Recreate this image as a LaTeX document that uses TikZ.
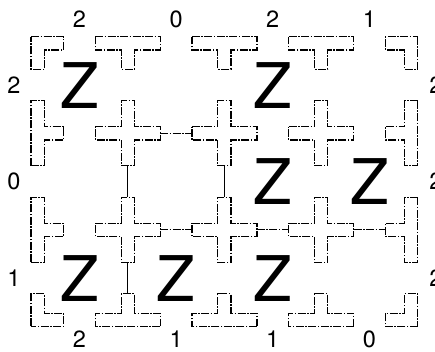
\documentclass[tikz,border=0pt]{standalone}
\usepackage{fontspec}
\setmainfont{TeX Gyre Heros}
\usepackage{tikz}

\begin{document}
\begin{tikzpicture}[x=1pt,y=-1pt,every node/.style={inner sep=0pt},
  piece/.style={line width=1.2pt,dash pattern=on 8pt off 1.5pt on 1.5pt off 1.5pt},
  link/.style={line width=1.2pt,dash pattern=on 8pt off 1.5pt on 1.5pt off 1.5pt},
  rung/.style={line width=0.9pt},
  clue/.style={font=\fontsize{23.5}{23.5}\selectfont},
  zee/.style={font=\fontsize{63}{63}\selectfont},
  cross/.pic={
    \draw[piece] (-32.5,-6.6) -- (-6.6,-6.6) -- (-6.6,-32.5) -- (6.6,-32.5) -- (6.6,-6.6) -- (32.5,-6.6)
      -- (32.5,6.6) -- (6.6,6.6) -- (6.6,32.5) -- (-6.6,32.5) -- (-6.6,6.6) -- (-32.5,6.6) -- cycle;
    \coordinate (-e) at (32.5,0);
    \coordinate (-w) at (-32.5,0);
    \coordinate (-n) at (0,-32.5);
    \coordinate (-s) at (0,32.5);
  },
  tee/.pic={
    \draw[piece] (-32.5,0) -- (32.5,0) -- (32.5,13.2) -- (6.6,13.2) -- (6.6,32.5) -- (-6.6,32.5)
      -- (-6.6,13.2) -- (-32.5,13.2) -- cycle;
    \coordinate (-stem) at (0,32.5);
  },
  corner/.pic={
    \draw[piece] (0,0) -- (32.5,0) -- (32.5,13.2) -- (13.2,13.2) -- (13.2,32.5) -- (0,32.5) -- cycle;
  }]
\useasboundingbox (0,0) rectangle (435,351);

% top row
\pic (k1) at (31,36.8) {corner};
\pic (t1) at (127.7,36.8) {tee};
\pic (t2) at (224.4,36.8) {tee};
\pic (t3) at (321.1,36.8) {tee};
\pic[rotate=-90] (k2) at (417.8,36.8) {corner};
% first inner row
\pic[rotate=90] (l1) at (31,133.3) {tee};
\pic (c11) at (127.7,133.3) {cross};
\pic (c21) at (224.4,133.3) {cross};
\pic (c31) at (321.1,133.3) {cross};
\pic[rotate=-90] (r1) at (417.8,133.3) {tee};
% second inner row
\pic[rotate=90] (l2) at (31,229.8) {tee};
\pic (c12) at (127.7,229.8) {cross};
\pic (c22) at (224.4,229.8) {cross};
\pic (c32) at (321.1,229.8) {cross};
\pic[rotate=-90] (r2) at (417.8,229.8) {tee};
% bottom row
\pic[rotate=90] (k3) at (31,326.3) {corner};
\pic[rotate=180] (b1) at (127.7,326.3) {tee};
\pic[rotate=180] (b2) at (224.4,326.3) {tee};
\pic[rotate=180] (b3) at (321.1,326.3) {tee};
\pic[rotate=180] (k4) at (417.8,326.3) {corner};

% connections
\draw[link] (c11-e) -- (c21-w);
\draw[link] (c12-e) -- (c22-w);
\draw[link] (c22-e) -- (c32-w);
\draw[link] (c32-e) -- (r2-stem);
\draw[rung] (c11-s) -- (c12-n);
\draw[rung] (c12-s) -- (b1-stem);
\draw[rung] (c21-s) -- (c22-n);

% Z cells
\node[zee] (z1) at (79.35,85.05) {Z};
\node[zee] (z2) at (272.75,85.05) {Z};
\node[zee] (z3) at (272.75,181.55) {Z};
\node[zee] (z4) at (369.45,181.55) {Z};
\node[zee] (z5) at (79.35,278.05) {Z};
\node[zee] (z6) at (176.05,278.05) {Z};
\node[zee] (z7) at (272.75,278.05) {Z};

% clues
\node[clue] (top1) at (79.35,19) {2};
\node[clue] (top2) at (176.05,19) {0};
\node[clue] (top3) at (272.75,19) {2};
\node[clue] (top4) at (369.45,19) {1};
\node[clue] (bot1) at (79.35,339) {2};
\node[clue] (bot2) at (176.05,339) {1};
\node[clue] (bot3) at (272.75,339) {1};
\node[clue] (bot4) at (369.45,339) {0};
\node[clue] (lft1) at (14,85.05) {2};
\node[clue] (lft2) at (14,181.55) {0};
\node[clue] (lft3) at (14,278.05) {1};
\node[clue] (rgt1) at (436,85.05) {2};
\node[clue] (rgt2) at (436,181.55) {2};
\node[clue] (rgt3) at (436,278.05) {2};
\end{tikzpicture}
\end{document}
